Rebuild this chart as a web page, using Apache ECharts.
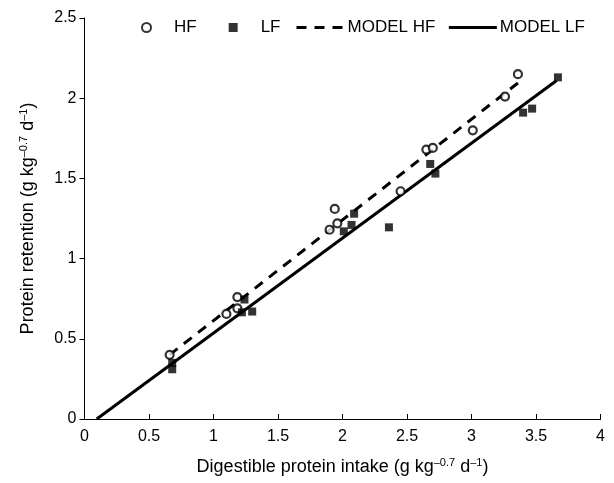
<!DOCTYPE html>
<html>
<head>
<meta charset="utf-8">
<script src="https://cdn.jsdelivr.net/npm/echarts@6/dist/echarts.min.js"></script>
<style>
  html, body { margin: 0; padding: 0; background: #fff; }
  #chart { width: 614px; height: 483px; }
</style>
</head>
<body>
<div id="chart"></div>
<script>
// measured points, HF diet (open circles)
const hfPoints = [
  [0.66, 0.40], [1.10, 0.655], [1.185, 0.69], [1.185, 0.76],
  [1.90, 1.18], [1.96, 1.22], [1.94, 1.31], [2.45, 1.42],
  [2.65, 1.68], [2.70, 1.69], [3.01, 1.80], [3.26, 2.01], [3.36, 2.15]
];
// measured points, LF diet (filled squares)
const lfPoints = [
  [0.68, 0.31], [0.68, 0.35], [1.22, 0.665], [1.24, 0.745], [1.30, 0.67],
  [2.01, 1.17], [2.07, 1.21], [2.09, 1.28], [2.36, 1.195],
  [2.68, 1.59], [2.72, 1.53], [3.40, 1.91], [3.47, 1.935], [3.67, 2.13]
];
// fitted model lines (end points)
const modelHF = [[0.66, 0.40], [3.36, 2.095]];
const modelLF = [[0.095, 0], [3.66, 2.11]];

const xTitle = 'Digestible protein intake (g kg{sup|\u20130.7} d{sup|\u20131})';
const yTitle = 'Protein retention (g kg{sup|\u20130.7} d{sup|\u20131})';

const font = '"Liberation Sans", Arial, sans-serif';
const titleRich = {
  sup: { fontSize: 11, fontFamily: font, color: '#000', verticalAlign: 'top', lineHeight: 12, padding: [0, 0, 5, 0] }
};

const myChart = echarts.init(document.getElementById('chart'));
const option = {
  animation: false,
  textStyle: { fontFamily: font, color: '#000' },
  grid: { left: 84.5, right: 13.5, top: 18, bottom: 64, containLabel: false },
  legend: [
    {
      data: ['HF', 'LF'],
      left: 136, top: 14,
      itemWidth: 9, itemHeight: 9, itemGap: 32,
      textStyle: { fontSize: 17, color: '#000', fontFamily: font, padding: [0, 0, 0, 18] }
    },
    {
      data: ['MODEL HF', 'MODEL LF'],
      left: 290, top: 14,
      itemWidth: 48, itemHeight: 14, itemGap: 12,
      itemStyle: { opacity: 0 },
      lineStyle: { width: 3, color: '#000' },
      textStyle: { fontSize: 17, color: '#000', fontFamily: font, padding: [0, 0, 0, -2] }
    }
  ],
  xAxis: {
    type: 'value', min: 0, max: 4, interval: 0.5,
    name: xTitle, nameLocation: 'middle', nameGap: 38,
    nameTextStyle: { fontSize: 18, color: '#000', fontFamily: font, lineHeight: 20, rich: titleRich },
    axisLine: { show: true, lineStyle: { color: '#000', width: 1 } },
    axisTick: { show: true, inside: true, length: 5, lineStyle: { color: '#000' } },
    axisLabel: { fontSize: 16, color: '#000', margin: 10 },
    splitLine: { show: false }
  },
  yAxis: {
    type: 'value', min: 0, max: 2.5, interval: 0.5,
    name: yTitle, nameLocation: 'middle', nameGap: 46, nameRotate: 90,
    nameTextStyle: { fontSize: 18, color: '#000', fontFamily: font, lineHeight: 20, rich: titleRich },
    axisLine: { show: true, lineStyle: { color: '#000', width: 1 } },
    axisTick: { show: true, inside: false, length: 5, lineStyle: { color: '#000' } },
    axisLabel: { fontSize: 16, color: '#000', margin: 8 },
    splitLine: { show: false }
  },
  series: [
    {
      name: 'MODEL HF', type: 'line', data: modelHF,
      symbol: 'none', z: 2,
      lineStyle: { color: '#000', width: 3, type: [10, 8] },
      itemStyle: { color: '#000' }
    },
    {
      name: 'MODEL LF', type: 'line', data: modelLF,
      symbol: 'none', z: 2,
      lineStyle: { color: '#000', width: 3 },
      itemStyle: { color: '#000' }
    },
    {
      name: 'HF', type: 'scatter', data: hfPoints,
      symbol: 'circle', symbolSize: 8, z: 3,
      itemStyle: { color: '#fff', borderColor: '#000', borderWidth: 2.2 }
    },
    {
      name: 'LF', type: 'scatter', data: lfPoints,
      symbol: 'rect', symbolSize: 8, z: 3,
      itemStyle: { color: '#000' }
    }
  ]
};
myChart.setOption(option);
</script>
</body>
</html>
